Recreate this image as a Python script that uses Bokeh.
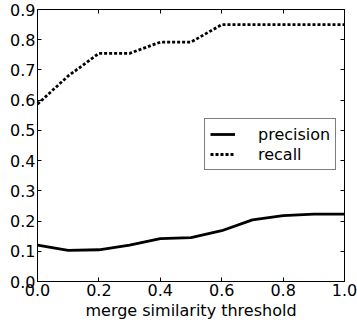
from bokeh.plotting import figure
from bokeh.models import LinearAxis, FixedTicker, Legend, LegendItem
from bokeh.embed import file_html
from bokeh.resources import INLINE

thresholds = [0.0, 0.1, 0.2, 0.3, 0.4, 0.5, 0.6, 0.7, 0.8, 0.9, 1.0]
precision = [0.120, 0.103, 0.105, 0.120, 0.142, 0.145, 0.168, 0.204, 0.218, 0.223, 0.223]
recall = [0.587, 0.680, 0.755, 0.755, 0.792, 0.792, 0.850, 0.850, 0.850, 0.850, 0.850]

x_ticks = [0.0, 0.2, 0.4, 0.6, 0.8, 1.0]
x_tick_labels = ["0.0", "0.2", "0.4", "0.6", "0.8", "1.0"]
y_ticks = [0.0, 0.1, 0.2, 0.3, 0.4, 0.5, 0.6, 0.7, 0.8, 0.9]
y_tick_labels = ["0.0", "0.1", "0.2", "0.3", "0.4", "0.5", "0.6", "0.7", "0.8", "0.9"]

FONT = "DejaVu Sans"
FS = "16px"

p = figure(width=357, height=324, x_range=(0, 1), y_range=(0, 0.9),
           output_backend="svg", toolbar_location=None,
           min_border_left=37, min_border_right=13, min_border_top=9, min_border_bottom=43)
p.background_fill_color = "white"
p.border_fill_color = "white"
p.outline_line_color = "black"
p.outline_line_width = 1
p.xgrid.visible = False
p.ygrid.visible = False

def style_axis(ax, ticks, labels, show_labels):
    ax.ticker = FixedTicker(ticks=ticks)
    ax.major_tick_in = 4
    ax.major_tick_out = 0
    ax.minor_tick_line_color = None
    ax.axis_line_color = "black"
    ax.major_tick_line_color = "black"
    ax.major_label_text_font = FONT
    ax.major_label_text_color = "black"
    ax.major_label_text_font_size = FS
    if show_labels:
        ax.major_label_overrides = dict(zip(ticks, labels))
    else:
        ax.major_label_overrides = {t: "" for t in ticks}
        ax.major_label_standoff = 0

style_axis(p.xaxis[0], x_ticks, x_tick_labels, True)
style_axis(p.yaxis[0], y_ticks, y_tick_labels, True)
p.xaxis[0].major_label_standoff = 2
p.yaxis[0].major_label_standoff = 2
p.xaxis[0].axis_label = "merge similarity threshold"
p.xaxis[0].axis_label_text_font = FONT
p.xaxis[0].axis_label_text_font_size = FS
p.xaxis[0].axis_label_text_font_style = "normal"
p.xaxis[0].axis_label_standoff = 2
p.xaxis[0].axis_label_text_color = "black"

top = LinearAxis()
style_axis(top, x_ticks, x_tick_labels, False)
p.add_layout(top, "above")
right = LinearAxis()
style_axis(right, y_ticks, y_tick_labels, False)
p.add_layout(right, "right")

r1 = p.line(thresholds, precision, line_color="black", line_width=2.8)
r2 = p.line(thresholds, recall, line_color="black", line_width=2.8, line_dash="3 2")

legend = Legend(items=[LegendItem(label="precision", renderers=[r1]),
                       LegendItem(label="recall", renderers=[r2])],
                location=(167, 111))
legend.border_line_color = "black"
legend.border_line_width = 1
legend.background_fill_color = "white"
legend.background_fill_alpha = 1
legend.padding = 5
legend.margin = 0
legend.spacing = 0
legend.label_height = 20
legend.glyph_height = 20
legend.glyph_width = 25
legend.label_standoff = 23
legend.label_text_font = FONT
legend.label_text_font_size = FS
legend.label_text_color = "black"
p.add_layout(legend, "center")

open("out.html", "w").write(file_html(p, INLINE))
